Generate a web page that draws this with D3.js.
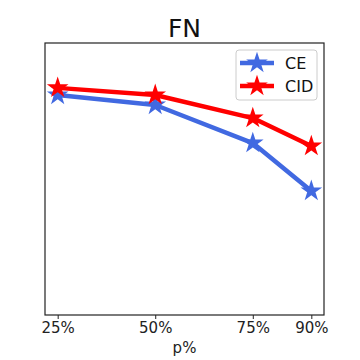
<!DOCTYPE html>
<html>
<head>
<meta charset="utf-8">
<script src="https://cdn.jsdelivr.net/npm/d3@7"></script>
<style>
  body { margin: 0; background: #fff; }
  svg { font-family: "DejaVu Sans", sans-serif; }
</style>
</head>
<body>
<div id="chart"></div>
<script>
// data (y has no ticks, so values are in arbitrary units)
const pValues = [25, 50, 75, 90];
const tickLabels = ['25%', '50%', '75%', '90%'];
const ceValues = [80.9, 77.2, 63.2, 45.6];
const cidValues = [83.5, 80.9, 72.4, 62.1];
const seriesNames = ['CE', 'CID'];
const seriesColors = ['#4169e1', '#ff0000'];

const width = 360, height = 360;
const margin = { top: 43, right: 36, bottom: 45, left: 45 };
const innerW = width - margin.left - margin.right;
const innerH = height - margin.top - margin.bottom;

const svg = d3.select('#chart').append('svg')
  .attr('width', width)
  .attr('height', height);

const g = svg.append('g').attr('transform', `translate(${margin.left},${margin.top})`);

// matplotlib-style 5% margins
const pad = (90 - 25) * 0.05;
const x = d3.scaleLinear().domain([25 - pad, 90 + pad]).range([0, innerW]);
const y = d3.scaleLinear().domain([0, 100]).range([innerH, 0]);

// x axis
const xAxis = d3.axisBottom(x)
  .tickValues(pValues)
  .tickFormat((d, i) => tickLabels[i])
  .tickSize(4)
  .tickPadding(3);
const xg = g.append('g').attr('transform', `translate(0,${innerH})`).call(xAxis);
xg.select('.domain').remove();
xg.selectAll('line').attr('stroke', '#222');
xg.selectAll('text').attr('font-size', 15).attr('fill', '#222')
  .attr('font-family', '"DejaVu Sans", sans-serif');

// frame
g.append('rect')
  .attr('width', innerW).attr('height', innerH)
  .attr('fill', 'none').attr('stroke', '#222').attr('stroke-width', 1.2);

const line = d3.line().x((d, i) => x(pValues[i])).y(d => y(d));
const star = d3.symbol().type(d3.symbolStar).size(145);

const allSeries = [ceValues, cidValues];
allSeries.forEach((vals, k) => {
  g.append('path')
    .datum(vals)
    .attr('d', line)
    .attr('fill', 'none')
    .attr('stroke', seriesColors[k])
    .attr('stroke-width', 4.5)
    .attr('stroke-linejoin', 'round');
  g.selectAll(null)
    .data(vals)
    .join('path')
    .attr('d', star)
    .attr('transform', (d, i) => `translate(${x(pValues[i])},${y(d)})`)
    .attr('fill', seriesColors[k]);
});

// title
svg.append('text')
  .attr('x', margin.left + innerW / 2)
  .attr('y', 37)
  .attr('text-anchor', 'middle')
  .attr('font-size', 25)
  .attr('fill', '#111')
  .text('FN');

// x label
svg.append('text')
  .attr('x', margin.left + innerW / 2)
  .attr('y', 353)
  .attr('text-anchor', 'middle')
  .attr('font-size', 15)
  .attr('fill', '#222')
  .text('p%');

// legend
const lg = svg.append('g').attr('transform', 'translate(236,50)');
lg.append('rect')
  .attr('width', 81).attr('height', 50)
  .attr('rx', 3)
  .attr('fill', '#fff').attr('fill-opacity', 0.8)
  .attr('stroke', '#ccc');
seriesNames.forEach((name, k) => {
  const row = lg.append('g').attr('transform', `translate(0,${13 + k * 23})`);
  row.append('line')
    .attr('x1', 4).attr('x2', 38)
    .attr('stroke', seriesColors[k]).attr('stroke-width', 4.5);
  row.append('path')
    .attr('d', star)
    .attr('transform', 'translate(21,0)')
    .attr('fill', seriesColors[k]);
  row.append('text')
    .attr('x', 49).attr('dy', '0.35em')
    .attr('font-size', 16)
    .attr('fill', '#111')
    .text(name);
});
</script>
</body>
</html>
